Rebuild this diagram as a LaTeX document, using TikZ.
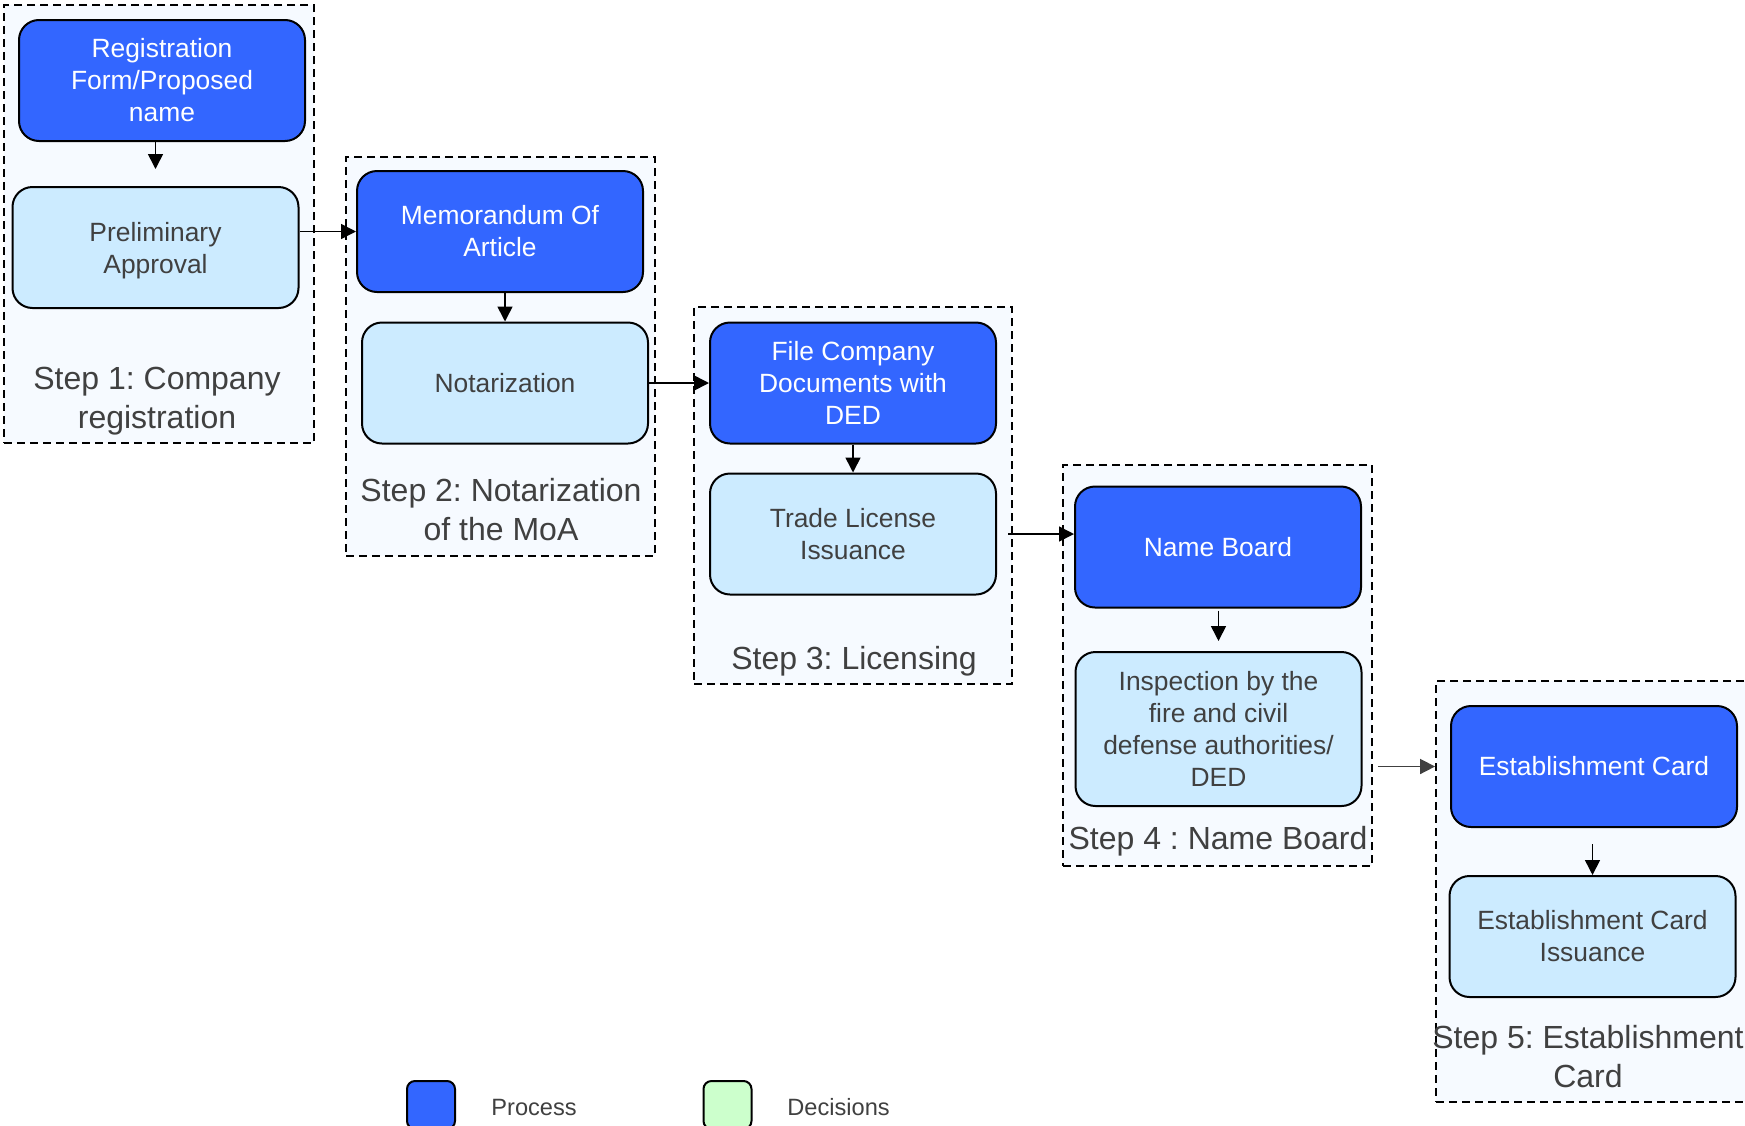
\documentclass[tikz,border=0pt]{standalone}
\usepackage{fontspec}
\setmainfont{Liberation Sans}
\frenchspacing
\usetikzlibrary{arrows.meta,calc}
\definecolor{ProcessBlue}{HTML}{3366FF}
\definecolor{IssueBlue}{HTML}{CCEBFF}
\definecolor{GroupWhite}{HTML}{F6FAFF}
\definecolor{DecisionGreen}{HTML}{CCFFCC}
\definecolor{TextGray}{HTML}{404040}
\tikzset{
  procbox/.style={draw=black, line width=1pt, rounded corners=10pt, fill=ProcessBlue,
    text=white, align=center, minimum width=143pt, minimum height=60.5pt, inner sep=0pt,
    font=\fontsize{13.2}{16}\selectfont},
  issuebox/.style={procbox, fill=IssueBlue, text=TextGray},
  stepgroup/.style={draw=black, line width=0.9pt, dash pattern=on 4pt off 2.5pt,
    fill=GroupWhite, inner sep=0pt},
  steplabel/.style={text=TextGray, align=center, font=\fontsize{16}{19.5}\selectfont},
  legendbox/.style={draw=black, line width=1pt, rounded corners=4pt, minimum width=24pt,
    minimum height=24pt, inner sep=0pt},
  legendtext/.style={text=TextGray, anchor=west, inner sep=0pt, font=\fontsize{11.8}{14}\selectfont},
  arr/.style={-{Triangle[length=7.5pt,width=7.5pt]}, line width=0.8pt}
}

\begin{document}
\begin{tikzpicture}[x=0.5pt,y=-0.5pt]
    \useasboundingbox[fill=white] (0,0) rectangle (1745,1125);

    \node[stepgroup, minimum width=155pt, minimum height=219pt] (g1) at (159,224) {};
    \node[stepgroup, minimum width=154.5pt, minimum height=199.5pt] (g2) at (500.5,356.5) {};
    \node[stepgroup, minimum width=159pt, minimum height=188.5pt] (g3) at (853,495.5) {};
    \node[stepgroup, minimum width=154.5pt, minimum height=200.5pt] (g4) at (1217.5,665.5) {};
    \node[stepgroup, minimum width=157pt, minimum height=210.5pt] (g5) at (1593,891.5) {};

    \node[procbox] (reg) at (162,80.5) {Registration\\Form/Proposed\\name};
    \node[issuebox] (pre) at (155.5,247.5) {\rule{0pt}{13pt}Preliminary\\Approval};
    \node[procbox] (mem) at (500,231.5) {Memorandum Of\\Article};
    \node[issuebox] (not) at (505,383) {Notarization};
    \node[procbox] (file) at (853,383) {File Company\\Documents with\\DED};
    \node[issuebox] (trade) at (853,534) {Trade License\\Issuance};
    \node[procbox] (name) at (1218,547) {Name Board};
    \node[issuebox, minimum height=77pt] (insp) at (1218.5,729) {Inspection by the\\fire and civil\\defense authorities/\\DED};
    \node[procbox] (est) at (1594,766.5) {Establishment Card};
    \node[issuebox] (iss) at (1592.5,936.5) {Establishment Card\\Issuance};

    \node[steplabel] (lab1) at (157,401) {Step 1: Company\\registration};
    \node[steplabel] (lab2) at (501,509.5) {Step 2: Notarization\\of the MoA};
    \node[steplabel] (lab3) at (854,661) {Step 3: Licensing};
    \node[steplabel] (lab4) at (1218,841) {Step 4 : Name Board};
    \node[steplabel] (lab5) at (1588,1057) {Step 5: Establishment\\Card};

    \draw[arr, shorten >=8.5pt] (reg.south -| pre.north) -- (pre.north);
    \draw[arr] (mem.south -| not.north) -- (not.north);
    \draw[arr] (file.south) -- (trade.north);
    \draw[arr, shorten <=1pt, shorten >=5pt] (name.south -| insp.north) -- (insp.north);
    \draw[arr, shorten <=8pt] (est.south -| iss.north) -- (iss.north);

    \draw[arr] (pre.east |- mem.west) -- (mem.west);
    \draw[arr] (not.east) -- (file.west);
    \draw[arr, shorten <=5.5pt] (trade.east) -- (trade.east -| name.west);
    \draw[arr, draw=TextGray, shorten <=2.5pt] (g4.east |- est.west) -- (g5.west |- est.west);

    \node[legendbox, fill=ProcessBlue] (legproc) at (431,1105) {};
    \node[legendtext] (legproctext) at (491,1107.5) {Process};
    \node[legendbox, fill=DecisionGreen] (legdec) at (727.5,1105) {};
    \node[legendtext] (legdectext) at (787,1107.5) {Decisions};
\end{tikzpicture}
\end{document}
